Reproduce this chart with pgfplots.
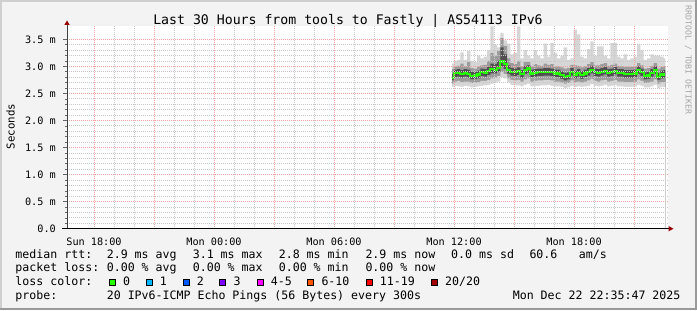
\documentclass[border=0pt]{standalone}
\usepackage{fontspec}
\setmainfont{DejaVu Sans Mono}
\usepackage{pgfplots}
\pgfplotsset{compat=1.18}
\usepackage{pgfplotstable}
\definecolor{bgc}{HTML}{F3F3F3}
\definecolor{bordlight}{HTML}{CFCFCF}
\definecolor{borddark}{HTML}{9A9A9A}
\definecolor{gridred}{HTML}{F4A3A3}
\definecolor{gridgray}{HTML}{C8C8C8}
\definecolor{arrowred}{HTML}{990000}
\definecolor{sA}{HTML}{D6D6D6}
\definecolor{sB}{HTML}{9C9C9C}
\definecolor{sC}{HTML}{505050}
\definecolor{medgreen}{HTML}{26FF00}
\definecolor{lc0}{HTML}{26FF00}
\definecolor{lc1}{HTML}{00B8FF}
\definecolor{lc2}{HTML}{0059FF}
\definecolor{lc3}{HTML}{7E00FF}
\definecolor{lc4}{HTML}{FF00FF}
\definecolor{lc6}{HTML}{FF5500}
\definecolor{lc11}{HTML}{FF0000}
\definecolor{lc20}{HTML}{A10000}
\pgfplotstableread{
t m lo1 hi1 lo2 hi2 lo3 hi3
35.900 2.79 2.62 3.05 2.68 2.95 2.74 2.86
36.067 2.88 2.64 3.10 2.72 3.00 2.80 2.94
36.233 2.88 2.63 3.12 2.73 3.01 2.81 2.95
36.400 2.86 2.62 3.26 2.71 3.05 2.79 2.93
36.567 2.88 2.64 3.12 2.72 3.00 2.81 2.95
36.733 2.86 2.63 3.28 2.72 3.08 2.79 2.94
36.900 2.82 2.61 3.10 2.69 2.97 2.76 2.90
37.067 2.83 2.62 3.08 2.70 2.96 2.77 2.90
37.233 2.85 2.63 3.20 2.71 3.00 2.78 2.92
37.400 2.89 2.64 3.15 2.73 3.02 2.82 2.96
37.567 2.88 2.65 3.18 2.73 3.03 2.81 2.95
37.733 2.91 2.66 3.30 2.75 3.10 2.84 2.99
37.900 2.95 2.68 3.74 2.78 3.25 2.87 3.05
38.067 2.94 2.70 3.40 2.79 3.20 2.87 3.04
38.233 2.97 2.72 3.35 2.82 3.28 2.90 3.10
38.400 3.09 2.80 3.62 2.90 3.52 3.00 3.35
38.567 3.05 2.78 3.48 2.86 3.38 2.95 3.22
38.733 2.94 2.70 3.42 2.78 3.15 2.86 3.02
38.900 2.90 2.66 3.22 2.75 3.06 2.83 2.97
39.067 2.89 2.65 3.25 2.74 3.04 2.82 2.96
39.233 2.91 2.65 3.74 2.75 3.10 2.84 2.98
39.400 2.86 2.63 3.15 2.72 3.00 2.79 2.93
39.567 2.93 2.66 3.30 2.76 3.08 2.86 3.00
39.733 2.96 2.68 3.20 2.78 3.08 2.88 3.02
39.900 2.87 2.63 3.15 2.72 3.00 2.80 2.94
40.067 2.88 2.64 3.30 2.73 3.04 2.81 2.95
40.233 2.89 2.64 3.20 2.74 3.02 2.82 2.96
40.400 2.89 2.65 3.15 2.74 3.01 2.82 2.96
40.567 2.90 2.65 3.42 2.75 3.05 2.83 2.97
40.733 2.90 2.66 3.18 2.75 3.03 2.83 2.97
40.900 2.89 2.64 3.43 2.74 3.04 2.82 2.96
41.067 2.87 2.63 3.25 2.72 3.00 2.80 2.94
41.233 2.87 2.63 3.15 2.72 3.00 2.80 2.94
41.400 2.84 2.62 3.20 2.70 2.98 2.77 2.91
41.567 2.80 2.60 3.35 2.68 2.96 2.74 2.88
41.733 2.82 2.61 3.12 2.69 2.97 2.76 2.89
41.900 2.90 2.64 3.15 2.74 3.03 2.83 2.97
42.067 2.85 2.62 3.68 2.71 3.02 2.78 2.92
42.233 2.88 2.63 3.59 2.72 3.01 2.81 2.95
42.400 2.84 2.62 3.18 2.70 2.98 2.77 2.91
42.567 2.87 2.63 3.15 2.72 3.00 2.80 2.94
42.733 2.90 2.64 3.32 2.74 3.04 2.83 2.97
42.900 2.94 2.67 3.46 2.77 3.08 2.87 3.01
43.067 2.89 2.64 3.20 2.73 3.02 2.82 2.96
43.233 2.88 2.63 3.37 2.72 3.02 2.81 2.95
43.400 2.90 2.64 3.37 2.74 3.04 2.83 2.97
43.567 2.92 2.66 3.20 2.75 3.06 2.85 2.99
43.733 2.88 2.63 3.15 2.72 3.01 2.81 2.95
43.900 2.89 2.64 3.43 2.73 3.03 2.82 2.96
44.067 2.92 2.65 3.43 2.75 3.05 2.85 2.99
44.233 2.88 2.63 3.18 2.72 3.01 2.81 2.95
44.400 2.88 2.63 3.15 2.72 3.00 2.81 2.95
44.567 2.86 2.62 3.22 2.71 2.99 2.79 2.93
44.733 2.86 2.62 3.12 2.71 2.99 2.79 2.93
44.900 2.86 2.62 3.15 2.71 2.99 2.79 2.93
45.067 2.87 2.63 3.18 2.72 3.00 2.80 2.94
45.233 2.93 2.66 3.40 2.76 3.06 2.86 3.00
45.400 2.89 2.64 3.30 2.73 3.02 2.82 2.96
45.567 2.82 2.61 3.12 2.69 2.96 2.76 2.89
45.733 2.83 2.61 3.15 2.70 2.97 2.77 2.90
45.900 2.88 2.63 3.22 2.72 3.01 2.81 2.95
46.067 2.93 2.66 3.20 2.76 3.06 2.86 3.00
46.233 2.81 2.60 3.20 2.68 2.96 2.75 2.88
46.400 2.85 2.62 3.18 2.71 2.99 2.78 2.92
46.567 2.86 2.62 3.15 2.71 3.00 2.79 2.93
}\smoke
\newcommand{\legfont}{\fontsize{11.6bp}{13bp}\selectfont}
\begin{document}
\begin{tikzpicture}
\begin{scope}[x=1bp,y=1bp]
\useasboundingbox (0,0) rectangle (697,310);
\fill[bgc] (0,0) rectangle (697,310);
\fill[bordlight] (0,0) rectangle (2,310);
\fill[bordlight] (0,308) rectangle (697,310);
\fill[borddark] (694.5,0) rectangle (697,310);
\fill[borddark] (0,0) rectangle (697,2.5);
\end{scope}
\begin{axis}[
  at={(67bp,81.3bp)}, anchor=south west,
  scale only axis, width=601bp, height=202.9bp,
  xmin=16.65, xmax=46.7, ymin=0, ymax=3.75,
  axis on top,
  axis background/.style={fill=white},
  axis line style={draw=none},
  xtick={18,21,24,27,30,33,36,39,42,45},
  xticklabels={Sun 18:00,{},Mon 00:00,{},Mon 06:00,{},Mon 12:00,{},Mon 18:00,{}},
  minor x tick num=2,
  ytick={0,0.5,1,1.5,2,2.5,3,3.5},
  yticklabels={0.0,0.5 m,1.0 m,1.5 m,2.0 m,2.5 m,3.0 m,3.5 m},
  minor y tick num=4,
  xtick pos=lower, ytick pos=left,
  tick align=outside,
  major tick length=4bp, minor tick length=2bp,
  every tick/.style={black!60, line width=0.6bp},
  xtick style={draw=none},
  grid=both,
  major grid style={draw=gridred, dash pattern=on 1bp off 1bp, line width=0.9bp},
  minor grid style={draw=gridgray, dash pattern=on 1bp off 1bp, line width=0.8bp},
  tick label style={font=\fontsize{10.2bp}{12bp}\selectfont, inner sep=0pt},
  xticklabel style={anchor=base, yshift=-13bp},
  yticklabel style={anchor=east, xshift=-7bp},
  /pgf/number format/assume math mode=true,
  every axis plot/.append style={const plot mark mid, mark=none, draw=none},
]
\addplot[fill=sA] table[x=t,y=hi1]{\smoke} \closedcycle;
\addplot[fill=sB] table[x=t,y=hi2]{\smoke} \closedcycle;
\addplot[fill=sC] table[x=t,y=hi3]{\smoke} \closedcycle;
\addplot[fill=sB] table[x=t,y=lo3]{\smoke} \closedcycle;
\addplot[fill=sA] table[x=t,y=lo2]{\smoke} \closedcycle;
\addplot[fill=white] table[x=t,y=lo1]{\smoke} \closedcycle;
\addplot[draw=medgreen, line width=2.2bp] table[x=t,y=m]{\smoke};
\end{axis}
\begin{scope}[x=1bp,y=1bp]
\draw[black!75, line width=1bp] (67,81.3) -- (67,286);
\fill[arrowred] (64.3,285) -- (69.7,285) -- (67,289.5) -- cycle;
\draw[black, line width=1.2bp] (62,81.3) -- (669,81.3);
\fill[arrowred] (668.5,78.6) -- (668.5,84) -- (673.5,81.3) -- cycle;
\node[anchor=base, inner sep=0pt, font=\fontsize{13.2bp}{15bp}\selectfont] at (348,286) {Last 30 Hours from tools to Fastly | AS54113 IPv6};
\node[rotate=90, inner sep=0pt, font=\fontsize{10.8bp}{12bp}\selectfont] at (10.5,183.5) {Seconds};
\node[rotate=-90, inner sep=0pt, text=black!35, font=\fontsize{8.2bp}{9bp}\selectfont] at (688.3,250) {RRDTOOL / TOBI OETIKER};
\begin{scope}[every node/.style={anchor=base west, inner sep=0pt, font=\legfont}]
\node at (15.3,51.7) {median rtt:};
\node at (106.6,51.7) {2.9 ms avg};
\node at (192.6,51.7) {3.1 ms max};
\node at (278.6,51.7) {2.8 ms min};
\node at (365.3,51.7) {2.9 ms now};
\node at (451,51.7) {0.0 ms sd};
\node at (529.3,51.7) {60.6};
\node at (578.6,51.7) {am/s};
\node at (15.3,38.1) {packet loss:};
\node at (106.6,38.1) {0.00 \% avg};
\node at (192.6,38.1) {0.00 \% max};
\node at (278.6,38.1) {0.00 \% min};
\node at (365.3,38.1) {0.00 \% now};
\node at (15.3,24.5) {loss color:};
\node at (123,24.5) {0};
\node at (159.7,24.5) {1};
\node at (196.7,24.5) {2};
\node at (233.3,24.5) {3};
\node at (270.7,24.5) {4-5};
\node at (321.3,24.5) {6-10};
\node at (379.7,24.5) {11-19};
\node at (445,24.5) {20/20};
\node at (15.3,10.9) {probe:};
\node at (106.6,10.9) {20 IPv6-ICMP Echo Pings (56 Bytes) every 300s};
\node at (512.6,10.9) {Mon Dec 22 22:35:47 2025};
\end{scope}
\foreach \xx/\cc in {109/lc0,145.7/lc1,182.7/lc2,219.3/lc3,256.7/lc4,307.3/lc6,365.7/lc11,431/lc20}{
  \filldraw[fill=\cc, draw=black, line width=0.9bp] (\xx+0.5,25) rectangle (\xx+6.3,30.8);
}
\end{scope}
\end{tikzpicture}
\end{document}
